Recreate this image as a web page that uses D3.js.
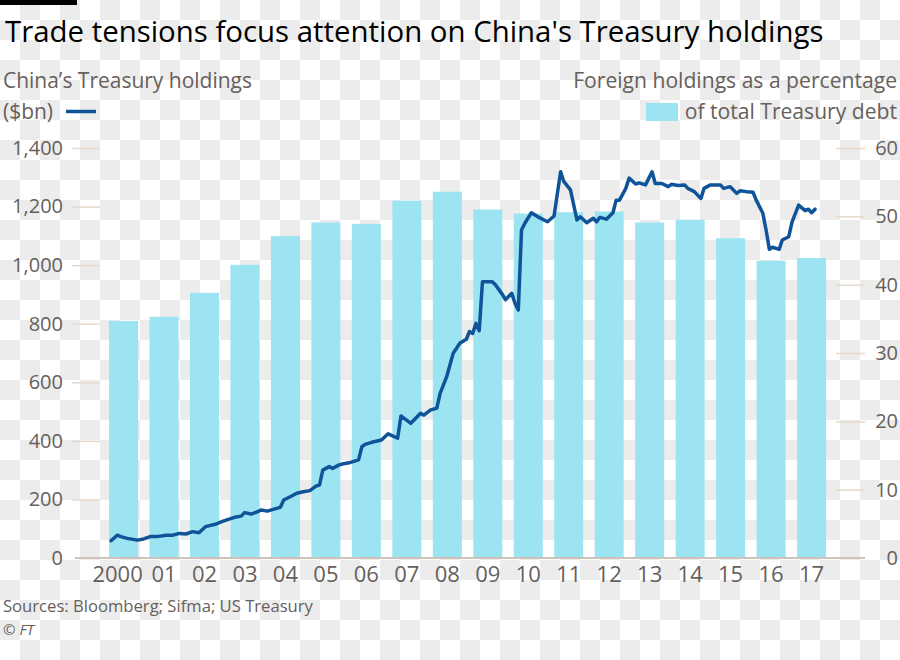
<!DOCTYPE html>
<html>
<head>
<meta charset="utf-8">
<script src="https://cdn.jsdelivr.net/npm/d3@7/dist/d3.min.js"></script>
<style>
  html, body { margin: 0; padding: 0; background: #fff; }
  svg { display: block; }
  text { font-family: "Open Sans", "Noto Sans", sans-serif; }
</style>
</head>
<body>
<svg id="chart" width="900" height="660"></svg>
<script>
// ---------- DATA ----------
const years = ["2000","01","02","03","04","05","06","07","08","09","10","11","12","13","14","15","16","17"];
const foreignPct = [34.7,35.3,38.8,42.9,47.1,49.1,48.9,52.3,53.6,51.0,50.4,50.6,50.7,49.1,49.5,46.8,43.5,43.9];

const holdingDates = [
  "2000-01","2000-03","2000-04","2000-06","2000-09","2000-11",
  "2001-01","2001-03","2001-06","2001-08","2001-10","2001-12",
  "2002-02","2002-04","2002-06","2002-09","2002-11",
  "2003-01","2003-03","2003-05","2003-06","2003-08","2003-10","2003-11",
  "2004-01","2004-03","2004-05","2004-06","2004-08","2004-10","2004-12",
  "2005-02","2005-04","2005-05","2005-06","2005-08","2005-09","2005-11","2005-12",
  "2006-02","2006-05","2006-06","2006-07","2006-09","2006-12",
  "2007-02","2007-05","2007-06","2007-09","2007-12",
  "2008-01","2008-03","2008-05","2008-06","2008-08","2008-10","2008-12",
  "2009-02","2009-03","2009-04","2009-05","2009-06","2009-07","2009-10","2009-11",
  "2010-01","2010-02","2010-04","2010-05","2010-06","2010-07","2010-08","2010-10","2010-12",
  "2011-03","2011-05","2011-07","2011-08","2011-10","2011-12",
  "2012-01","2012-03","2012-05","2012-06","2012-07","2012-09","2012-11","2012-12",
  "2013-01","2013-03","2013-04","2013-06","2013-07","2013-09","2013-11","2013-12",
  "2014-02","2014-04","2014-05","2014-07","2014-09","2014-10","2014-12",
  "2015-01","2015-02","2015-03","2015-05","2015-08","2015-09","2015-11",
  "2016-01","2016-02","2016-04","2016-06","2016-07","2016-09","2016-10","2016-11","2016-12",
  "2017-02","2017-03","2017-05","2017-06","2017-08","2017-10","2017-11","2017-12",
  "2018-01"
];
const holdingValues = [
  59,78,73,67,61,65,
  73,73,78,78,84,82,
  90,86,107,115,124,
  132,139,143,155,150,158,164,
  160,167,173,198,209,221,226,
  230,246,249,300,312,306,318,321,
  325,335,380,388,395,403,
  424,409,485,460,494,
  488,505,512,562,619,699,733,
  747,773,767,801,776,943,943,932,
  901,882,904,870,847,1120,1143,1179,1165,
  1148,1168,1319,1285,1257,1154,
  1165,1145,1160,1148,1163,1157,1179,1222,
  1222,1262,1297,1277,1281,1274,1319,1279,
  1279,1268,1276,1272,1274,1262,1251,
  1239,1228,1262,1274,1274,1262,1268,
  1245,1254,1251,1249,1222,1177,1120,1054,1061,
  1054,1086,1097,1148,1205,1186,1191,1179,
  1191
];

const leftTicks = [0,200,400,600,800,1000,1200,1400];
const rightTicks = [0,10,20,30,40,50,60];

// ---------- COLOURS ----------
const BAR = "#9de4f2";
const LINE = "#0f5499";
const TXT = "#66605c";
const TICK = "#e6d9cc";
const BASE = "#cec3b8";

const svg = d3.select("#chart");

// checkerboard background (transparency pattern of the reference)
const defs = svg.append("defs");
const pat = defs.append("pattern").attr("id","chk").attr("width",40).attr("height",40)
  .attr("patternUnits","userSpaceOnUse");
pat.append("rect").attr("width",40).attr("height",40).attr("fill","#ffffff");
pat.append("rect").attr("x",20).attr("y",0).attr("width",20).attr("height",20).attr("fill","#ececec");
pat.append("rect").attr("x",0).attr("y",20).attr("width",20).attr("height",20).attr("fill","#ececec");
svg.append("rect").attr("width",900).attr("height",660).attr("fill","url(#chk)");

// ---------- SCALES ----------
const yLeft = d3.scaleLinear().domain([0,1400]).range([558,148]);
const yRight = d3.scaleLinear().domain([0,60]).range([558,148]);
const xBand = d3.scaleBand().domain(years).range([88.8,846.3]).paddingInner(0.283).paddingOuter(0.5);
const parse = d3.timeParse("%Y-%m");
const xTime = d3.scaleTime().domain([new Date(2000,0,1), new Date(2018,0,1)]).range([111,815]);

// ---------- HEADER ----------
svg.append("rect").attr("x",0).attr("y",0).attr("width",77).attr("height",5).attr("fill","#000");

function fit(sel, w) {
  const cur = parseFloat(sel.style("font-size"));
  const m = sel.node().getComputedTextLength();
  sel.style("font-size", (cur * w / m) + "px");
}

const title = svg.append("text").attr("x",5).attr("y",42).attr("fill","#000")
  .style("font-size","30px").text("Trade tensions focus attention on China's Treasury holdings");
fit(title, 819);

const sub1 = svg.append("text").attr("x",3).attr("y",88).attr("fill",TXT)
  .style("font-size","20px").text("China’s Treasury holdings");
fit(sub1, 249);
const sub2 = svg.append("text").attr("x",3).attr("y",119).attr("fill",TXT)
  .style("font-size",sub1.style("font-size")).text("($bn)");
svg.append("line").attr("x1",66).attr("x2",96).attr("y1",111.5).attr("y2",111.5)
  .attr("stroke",LINE).attr("stroke-width",3.5);

const r1 = svg.append("text").attr("x",897).attr("y",88).attr("fill",TXT).attr("text-anchor","end")
  .style("font-size","20px").text("Foreign holdings as a percentage");
fit(r1, 324);
const r2 = svg.append("text").attr("x",897).attr("y",119).attr("fill",TXT).attr("text-anchor","end")
  .style("font-size",r1.style("font-size")).text("of total Treasury debt");
svg.append("rect").attr("x",646).attr("y",103).attr("width",32).attr("height",18).attr("fill",BAR);

// ---------- AXES ----------
const gl = svg.append("g").attr("transform","translate(100,0)")
  .call(d3.axisLeft(yLeft).tickValues(leftTicks).tickSize(28).tickPadding(9).tickFormat(d3.format(",")));
gl.select(".domain").remove();
gl.selectAll("line").attr("stroke",TICK).attr("stroke-width",1.5);
gl.selectAll(".tick").filter(d => d === 0).select("line").remove();
gl.selectAll("text").attr("fill",TXT).style("font-size","20px").style("font-family",'"Open Sans", sans-serif');

const gr = svg.append("g").attr("transform","translate(836,0)")
  .call(d3.axisRight(yRight).tickValues(rightTicks).tickSize(29).tickPadding(9));
gr.select(".domain").remove();
gr.selectAll("line").attr("stroke",TICK).attr("stroke-width",1.5);
gr.selectAll(".tick").filter(d => d === 0).select("line").remove();
gr.selectAll("text").attr("fill",TXT).attr("text-anchor","end").attr("x",62)
  .style("font-size","20px").style("font-family",'"Open Sans", sans-serif');

// ---------- BARS ----------
svg.append("g").selectAll("rect").data(years).join("rect")
  .attr("x", d => xBand(d)).attr("width", xBand.bandwidth())
  .attr("y", (d,i) => yRight(foreignPct[i]))
  .attr("height", (d,i) => yRight(0) - yRight(foreignPct[i]))
  .attr("fill", BAR);

// baseline
svg.append("line").attr("x1",75).attr("x2",865).attr("y1",yLeft(0)).attr("y2",yLeft(0))
  .attr("stroke",BASE).attr("stroke-width",2);

const gb = svg.append("g").attr("transform",`translate(0,${yLeft(0)})`)
  .call(d3.axisBottom(xBand).tickSize(0).tickPadding(8));
gb.select(".domain").remove();
gb.selectAll("text").attr("fill",TXT).style("font-size","22px").style("font-family",'"Open Sans", sans-serif')
  .attr("dx", d => d === "2000" ? -6 : 0);

// ---------- LINE ----------
const lineData = holdingDates.map((d,i) => ({date: parse(d), value: holdingValues[i]}));
svg.append("path").datum(lineData)
  .attr("d", d3.line().x(d => xTime(d.date)).y(d => yLeft(d.value)))
  .attr("fill","none").attr("stroke",LINE).attr("stroke-width",3.5)
  .attr("stroke-linejoin","round").attr("stroke-linecap","round");

// ---------- FOOTER ----------
const src = svg.append("text").attr("x",3).attr("y",612).attr("fill",TXT).style("font-size","17px")
  .text("Sources: Bloomberg; Sifma; US Treasury");
fit(src, 310);
svg.append("text").attr("x",3).attr("y",635).attr("fill",TXT).style("font-size","15px")
  .style("font-style","italic").text("© FT");
</script>
</body>
</html>
